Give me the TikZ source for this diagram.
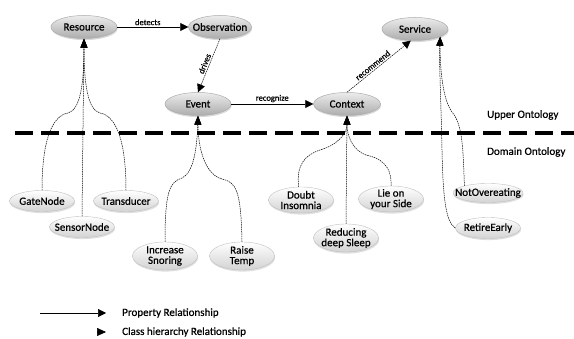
\documentclass[tikz,border=0pt]{standalone}
\usepackage{fontspec}
\setmainfont{Carlito}[FakeBold=0.6]
\usetikzlibrary{shapes.geometric,arrows.meta,shadows}
\begin{document}
\begin{tikzpicture}[x=1pt,y=-1pt,
  up/.style={ellipse, minimum width=66pt, minimum height=23pt, inner xsep=-6pt, inner ysep=-2pt,
    top color=gray!15, bottom color=gray!65, draw=gray!65, line width=0.5pt,
    drop shadow={opacity=0.3, shadow xshift=0.6pt, shadow yshift=-1.6pt},
    font=\fontsize{11}{11}\selectfont},
  low/.style={ellipse, minimum width=65pt, minimum height=21pt, inner xsep=-6pt, inner ysep=-2pt,
    top color=white, bottom color=gray!35, draw=gray!50, line width=0.4pt,
    drop shadow={opacity=0.25, shadow xshift=0.6pt, shadow yshift=-1.6pt},
    align=center, font=\fontsize{11}{10.5}\selectfont},
  prop/.style={-{Triangle[length=8pt,width=8pt]}, line width=0.6pt},
  rel/.style={-{Triangle[length=8pt,width=8pt]}, line width=0.5pt, dash pattern=on 1.5pt off 0.8pt},
  hier/.style={-{Triangle[length=9pt,width=7pt]}, line width=0.5pt, dash pattern=on 1.5pt off 0.8pt},
  elab/.style={font=\fontsize{8.5}{9}\selectfont, inner sep=1.5pt},
  plain/.style={font=\fontsize{11}{12}\selectfont, inner sep=0pt, anchor=west}
]
\useasboundingbox (0,0) rectangle (574,339);

% upper ontology
\node[up] (res) at (84,27) {Resource};
\node[up, minimum width=63pt] (obs) at (220,27) {Observation};
\node[up] (ev) at (198,104) {Event};
\node[up, minimum width=67pt] (ctx) at (347,104) {Context};
\node[up] (svc) at (415,29) {Service};

% domain ontology
\node[low] (gate) at (42,201) {GateNode};
\node[low] (sensor) at (82,227) {SensorNode};
\node[low] (trans) at (126,201) {Transducer};
\node[low, minimum height=28pt] (snore) at (165,256) {Increase\\Snoring};
\node[low, minimum height=28pt] (temp) at (242,256) {Raise\\Temp};
\node[low, minimum height=26pt] (doubt) at (301,200) {Doubt\\Insomnia};
\node[low, minimum height=28pt] (reduce) at (346,238) {Reducing\\deep Sleep};
\node[low, minimum height=26pt] (lie) at (391,199) {Lie on\\your Side};
\node[low, minimum width=70pt, minimum height=19pt, inner xsep=-10pt] (notover) at (488,193) {NotOvereating};
\node[low, minimum height=21pt] (retire) at (488,228) {RetireEarly};

% separator
\coordinate (dl) at (15,133);
\coordinate (dr) at (574,133);
\draw[line width=3.5pt, dash pattern=on 18pt off 8pt] (dl) -- (dr);
\node[plain] (upperlbl) at (487,115) {Upper Ontology};
\node[plain] (domainlbl) at (487,152) {Domain Ontology};

% property relations
\draw[prop] (res) -- node[elab, above, pos=0.43] {detects} (obs);
\draw[rel] (obs.south) -- node[elab, sloped, above] {drives} (ev.north);
\draw[prop] (ev) -- node[elab, above] {recognize} (ctx);
\draw[rel] (ctx.north) -- node[elab, sloped, above, pos=0.45] {recommend} (svc.250);

% class hierarchy
\draw[hier] (gate.north) .. controls (42,140) and (52,116) .. (68,113) .. controls (80,110) and (84,85) .. (res.south);
\draw[hier] (sensor.north) -- (res.south);
\draw[hier] (trans.north) .. controls (126,140) and (116,116) .. (100,113) .. controls (88,110) and (84,85) .. (res.south);

\draw[hier] (snore.north) .. controls (165,190) and (170,182) .. (182,178) .. controls (193,173) and (197,150) .. (ev.south);
\draw[hier] (temp.north) .. controls (241,190) and (236,182) .. (222,179) .. controls (206,175) and (198,150) .. (ev.south);

\draw[hier] (doubt.100) .. controls (296,165) and (305,155) .. (320,150) .. controls (335,146) and (347,135) .. (ctx.south);
\draw[hier] (reduce.north) -- (ctx.south);
\draw[hier] (lie.north) .. controls (392,165) and (380,158) .. (366,155) .. controls (352,150) and (347,135) .. (ctx.south);

\draw[hier] (retire.west) .. controls (446,222) and (443,200) .. (442,150) .. controls (441,100) and (439,60) .. (svc.-17);
\draw[hier] (notover.163) .. controls (463,150) and (463,125) .. (452,112) .. controls (443,100) and (440,70) .. (svc.-17);

% legend
\coordinate (l1a) at (40,313);
\coordinate (l1b) at (106,313);
\draw[prop] (l1a) -- (l1b);
\node[plain] (leg1) at (122,313) {Property Relationship};
\coordinate (l2a) at (97,332);
\coordinate (l2b) at (106,332);
\draw[-{Triangle[length=9pt,width=8pt]}, line width=0.5pt] (l2a) -- (l2b);
\node[plain] (leg2) at (122,332) {Class hierarchy Relationship};
\end{tikzpicture}
\end{document}
